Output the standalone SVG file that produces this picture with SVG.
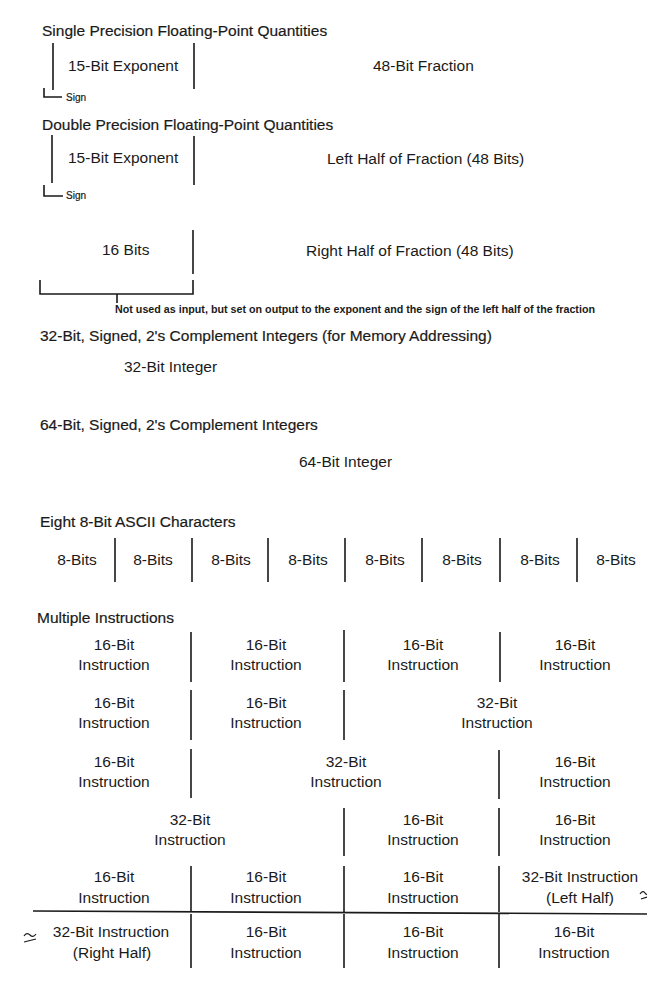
<svg xmlns="http://www.w3.org/2000/svg" width="647" height="984" viewBox="0 0 647 984">
<style>
text{font-family:"Liberation Sans",Arial,Helvetica,sans-serif;fill:#1a1a1a}
.t{font-size:15.5px;stroke:#1a1a1a;stroke-width:0.2}
.l{font-size:15.5px}
.c{font-size:15.5px;text-anchor:middle}
.s{font-size:10px;stroke:#1a1a1a;stroke-width:0.2}
.n{font-size:10.5px;font-weight:bold}
.ln{stroke:#1a1a1a;stroke-width:1.6;fill:none}
.sq{stroke:#1a1a1a;stroke-width:1.2;fill:none}
</style>
<rect width="647" height="984" fill="#fff"/>

<g id="single">
<text class="t" x="42" y="36">Single Precision Floating-Point Quantities</text>
<text class="l" x="68" y="71">15-Bit Exponent</text>
<text class="l" x="373" y="71">48-Bit Fraction</text>
<text class="s" x="66" y="101">Sign</text>
<path class="ln" d="M53 43V90M194 43V89M44 88V97H62"/>
</g>

<g id="double">
<text class="t" x="42" y="130">Double Precision Floating-Point Quantities</text>
<text class="l" x="68" y="163">15-Bit Exponent</text>
<text class="l" x="327" y="164">Left Half of Fraction (48 Bits)</text>
<text class="s" x="66" y="199">Sign</text>
<path class="ln" d="M52 135V183M194 136V185M44 185V196H63"/>
<text class="l" x="102" y="255">16 Bits</text>
<text class="l" x="306" y="256">Right Half of Fraction (48 Bits)</text>
<path class="ln" d="M193 230V274M40 280V294H193V280M117 294V303"/>
<text class="n" x="115" y="313" textLength="480" lengthAdjust="spacingAndGlyphs">Not used as input, but set on output to the exponent and the sign of the left half of the fraction</text>
</g>

<g id="int32">
<text class="t" x="40" y="341">32-Bit, Signed, 2's Complement Integers (for Memory Addressing)</text>
<text class="l" x="124" y="372">32-Bit Integer</text>
</g>

<g id="int64">
<text class="t" x="40" y="430">64-Bit, Signed, 2's Complement Integers</text>
<text class="l" x="299" y="467">64-Bit Integer</text>
</g>

<g id="ascii">
<text class="t" x="40" y="527">Eight 8-Bit ASCII Characters</text>
<text class="c" x="77" y="565">8-Bits</text>
<text class="c" x="153" y="565">8-Bits</text>
<text class="c" x="231" y="565">8-Bits</text>
<text class="c" x="308" y="565">8-Bits</text>
<text class="c" x="385" y="565">8-Bits</text>
<text class="c" x="462" y="565">8-Bits</text>
<text class="c" x="540" y="565">8-Bits</text>
<text class="c" x="616" y="565">8-Bits</text>
<path class="ln" d="M115 538V582M192 538V582M268 538V582M345 538V582M422 538V582M500 538V582M577 538V582"/>
</g>

<g id="multi">
<text class="t" x="37" y="623">Multiple Instructions</text>
<g id="row1">
<text class="c" x="114" y="650">16-Bit</text><text class="c" x="114" y="670">Instruction</text>
<text class="c" x="266" y="650">16-Bit</text><text class="c" x="266" y="670">Instruction</text>
<text class="c" x="423" y="650">16-Bit</text><text class="c" x="423" y="670">Instruction</text>
<text class="c" x="575" y="650">16-Bit</text><text class="c" x="575" y="670">Instruction</text>
<path class="ln" d="M191 632V682M344 630V682M500 632V682"/>
</g>
<g id="row2">
<text class="c" x="114" y="708">16-Bit</text><text class="c" x="114" y="728">Instruction</text>
<text class="c" x="266" y="708">16-Bit</text><text class="c" x="266" y="728">Instruction</text>
<text class="c" x="497" y="708">32-Bit</text><text class="c" x="497" y="728">Instruction</text>
<path class="ln" d="M191 690V740M344 690V740"/>
</g>
<g id="row3">
<text class="c" x="114" y="767">16-Bit</text><text class="c" x="114" y="787">Instruction</text>
<text class="c" x="346" y="767">32-Bit</text><text class="c" x="346" y="787">Instruction</text>
<text class="c" x="575" y="767">16-Bit</text><text class="c" x="575" y="787">Instruction</text>
<path class="ln" d="M191 749V798M499 750V799"/>
</g>
<g id="row4">
<text class="c" x="190" y="825">32-Bit</text><text class="c" x="190" y="845">Instruction</text>
<text class="c" x="423" y="825">16-Bit</text><text class="c" x="423" y="845">Instruction</text>
<text class="c" x="575" y="825">16-Bit</text><text class="c" x="575" y="845">Instruction</text>
<path class="ln" d="M344 808V856M499 808V856"/>
</g>
<g id="row5">
<text class="c" x="114" y="882">16-Bit</text><text class="c" x="114" y="903">Instruction</text>
<text class="c" x="266" y="882">16-Bit</text><text class="c" x="266" y="903">Instruction</text>
<text class="c" x="423" y="882">16-Bit</text><text class="c" x="423" y="903">Instruction</text>
<text class="c" x="580" y="882">32-Bit Instruction</text><text class="c" x="580" y="903">(Left Half)</text>
<path class="ln" d="M191 866V912M344 866V912M499 866V912"/>
<path class="sq" d="M640 894c2 -3 4 -3 5 -1s3 2 4 -1M641 899L647 897"/>
</g>
<path id="split" class="ln" d="M33 911L647 914"/>
<g id="row6">
<text class="c" x="111" y="937">32-Bit Instruction</text><text class="c" x="112" y="958">(Right Half)</text>
<text class="c" x="266" y="937">16-Bit</text><text class="c" x="266" y="958">Instruction</text>
<text class="c" x="423" y="937">16-Bit</text><text class="c" x="423" y="958">Instruction</text>
<text class="c" x="574" y="937">16-Bit</text><text class="c" x="574" y="958">Instruction</text>
<path class="ln" d="M191 914V968M344 914V968M499 914V968"/>
<path class="sq" d="M24 936c2 -3 4 -3 6 -1s4 2 6 -1M24 942L36 939"/>
</g>
</g>
</svg>
